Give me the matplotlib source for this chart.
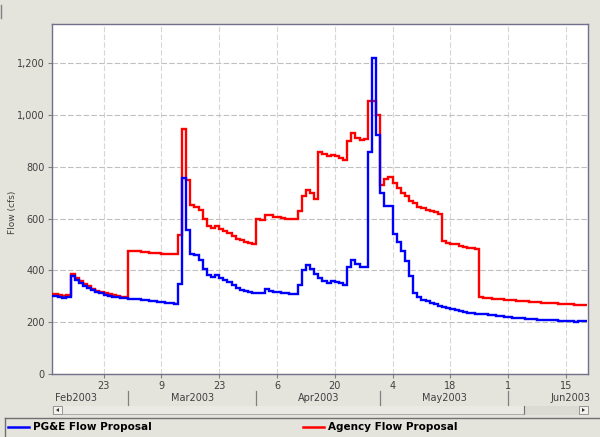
import matplotlib
matplotlib.use('Agg')
import matplotlib.pyplot as plt
import matplotlib.dates as mdates
import matplotlib.ticker as mticker
from matplotlib.patches import Rectangle, Polygon
from matplotlib.lines import Line2D
from matplotlib.transforms import blended_transform_factory
import pandas as pd

# ---------------- data ----------------
start_date = '2003-02-10'   # daily values from this day

pge_flow = [
    300, 300, 298, 295, 298, 380, 363, 350, 340, 332,
    324, 317, 311, 306, 302, 299, 296, 294, 292, 291,
    290, 288, 286, 284, 283, 281, 279, 277, 275, 273,
    271, 348, 757, 556, 464, 458, 440, 407, 381, 375,
    381, 372, 361, 355, 343, 333, 325, 319, 315, 313,
    312, 311, 329, 322, 316, 315, 312, 311, 310, 309,
    342, 402, 419, 406, 387, 369, 359, 351, 359, 354,
    351, 342, 414, 441, 424, 413, 414, 857, 1218, 922,
    699, 647, 647, 541, 508, 473, 437, 377, 312, 299,
    287, 280, 274, 270, 264, 260, 255, 251, 248, 244,
    240, 237, 235, 233, 232, 230, 228, 226, 224, 223,
    221, 220, 218, 217, 215, 214, 212, 211, 210, 209,
    209, 208, 207, 206, 205, 204, 203, 201, 206, 203,
]

agency_flow = [
    310, 310, 306, 302, 306, 385, 370, 358, 348, 338,
    330, 322, 316, 312, 308, 305, 302, 298, 296, 476,
    475, 473, 471, 470, 469, 467, 466, 465, 464, 463,
    463, 538, 944, 748, 654, 645, 635, 599, 570, 564,
    570, 560, 551, 545, 531, 522, 516, 510, 506, 503,
    600, 596, 615, 613, 606, 605, 601, 599, 599, 598,
    628, 689, 709, 699, 676, 858, 851, 841, 847, 841,
    835, 828, 899, 931, 912, 902, 906, 1055, 1055, 998,
    728, 753, 760, 738, 717, 699, 689, 668, 659, 646,
    640, 635, 630, 626, 618, 512, 506, 503, 500, 496,
    491, 487, 485, 484, 299, 295, 292, 290, 289, 288,
    287, 285, 284, 283, 282, 280, 279, 278, 277, 276,
    275, 274, 273, 272, 271, 270, 269, 268, 267, 266,
]

series_names = ['PG&E Flow Proposal', 'Agency Flow Proposal']
y_label = 'Flow (cfs)'
y_ticks = [0, 200, 400, 600, 800, 1000, 1200]
x_tick_dates = ['2003-02-23', '2003-03-09', '2003-03-23', '2003-04-06',
                '2003-04-20', '2003-05-04', '2003-05-18', '2003-06-01',
                '2003-06-15']
month_labels = ['Feb2003', 'Mar2003', 'Apr2003', 'May2003', 'Jun2003']
month_starts = ['2003-02-01', '2003-03-01', '2003-04-01', '2003-05-01',
                '2003-06-01', '2003-07-01']
view_start = '2003-02-10 09:30'
view_end = '2003-06-20 09:30'

# ---------------- figure ----------------
W, H = 600, 437
BG = '#e4e3dc'
fig = plt.figure(figsize=(6, 4.37), dpi=100, facecolor=BG)


def fx(px):
    return px / W


def fy(py):
    return 1 - py / H


ax = fig.add_axes([fx(51.5), fy(374), fx(588.3) - fx(51.5), fy(24.3) - fy(374)])
ax.set_facecolor('white')

edges = mdates.date2num(
    pd.date_range(start_date, periods=len(pge_flow) + 1, freq='D').to_pydatetime())
ax.stairs(agency_flow, edges, baseline=None, color='#ff0000', lw=1.7, zorder=3)
ax.stairs(pge_flow, edges, baseline=None, color='#0000ff', lw=1.7, zorder=4)

x0 = mdates.date2num(pd.Timestamp(view_start).to_pydatetime())
x1 = mdates.date2num(pd.Timestamp(view_end).to_pydatetime())
ax.set_xlim(x0, x1)
ax.set_ylim(0, 1350)

tick_dt = pd.to_datetime(x_tick_dates)
ax.set_xticks(mdates.date2num(tick_dt.to_pydatetime()))
ax.set_xticklabels([str(d.day) for d in tick_dt])
ax.set_yticks(y_ticks)
ax.yaxis.set_major_formatter(mticker.StrMethodFormatter('{x:,.0f}'))

ax.yaxis.grid(True, color='#c0c0c0', lw=0.8, ls=(0, (5, 2)), zorder=0)
ax.xaxis.grid(True, color='#d8d8d0', lw=0.8, ls=(0, (5, 2)), zorder=0)
ax.set_axisbelow(True)

for s in ax.spines.values():
    s.set_color('#70708a')
    s.set_linewidth(1.0)

ax.tick_params(axis='both', length=3, color='#808080', labelsize=7,
               labelcolor='#404040', pad=2, width=0.8)

fig.text(fx(13), fy(212), y_label, rotation=90, ha='center', va='center',
         fontsize=6.5, color='#404040')

# month axis row
tr = blended_transform_factory(ax.transData, fig.transFigure)
ms = [mdates.date2num(pd.Timestamp(m).to_pydatetime()) for m in month_starts]
for m in ms[1:-1]:
    fig.add_artist(Line2D([m, m], [fy(391), fy(405)], transform=tr,
                          color='#808080', lw=0.9))
for i, lab in enumerate(month_labels):
    if i == 0:
        fig.text(x0 + 0.9, fy(398), lab, transform=tr, ha='left', va='center',
                 fontsize=7, color='#404040')
    else:
        mid = (ms[i] + ms[i + 1]) / 2
        fig.text(mid, fy(398), lab, transform=tr, ha='center', va='center',
                 fontsize=7, color='#404040')

# scrollbar
fig.add_artist(Rectangle((fx(52), fy(415)), fx(588) - fx(52), fy(406) - fy(415),
                         transform=fig.transFigure, facecolor='#dcdbd3',
                         edgecolor='none'))
fig.add_artist(Rectangle((fx(62), fy(415)), fx(524) - fx(62), fy(406) - fy(415),
                         transform=fig.transFigure, facecolor='#eae9e3',
                         edgecolor='none'))
fig.add_artist(Line2D([fx(524), fx(524)], [fy(406), fy(414)],
                      transform=fig.transFigure, color='#707070', lw=0.8))
fig.add_artist(Line2D([fx(62), fx(524)], [fy(414), fy(414)],
                      transform=fig.transFigure, color='#a0a0a0', lw=0.6))
for bx in (53, 579):
    fig.add_artist(Rectangle((fx(bx), fy(414)), fx(9), fy(406) - fy(414),
                             transform=fig.transFigure, facecolor='#f2f2ee',
                             edgecolor='#888888', lw=0.6))
fig.add_artist(Polygon([(fx(56), fy(410)), (fx(59), fy(408)), (fx(59), fy(412))],
                       closed=True, transform=fig.transFigure,
                       facecolor='#333333', edgecolor='none'))
fig.add_artist(Polygon([(fx(585), fy(410)), (fx(582), fy(408)), (fx(582), fy(412))],
                       closed=True, transform=fig.transFigure,
                       facecolor='#333333', edgecolor='none'))

# legend bar
fig.add_artist(Line2D([fx(5), fx(600)], [fy(418), fy(418)],
                      transform=fig.transFigure, color='#707070', lw=1.0))
fig.add_artist(Line2D([fx(5), fx(5)], [fy(418), fy(437)],
                      transform=fig.transFigure, color='#707070', lw=1.0))
fig.add_artist(Line2D([fx(1), fx(1)], [fy(5), fy(18)],
                      transform=fig.transFigure, color='#808080', lw=1.0))

legend_items = [(series_names[0], '#0000ff', 8), (series_names[1], '#ff0000', 303)]
for name, col, lx in legend_items:
    fig.add_artist(Line2D([fx(lx), fx(lx + 21)], [fy(427), fy(427)],
                          transform=fig.transFigure, color=col, lw=1.8))
    fig.text(fx(lx + 25), fy(427.5), name, ha='left', va='center',
             fontsize=7.5, fontweight='bold', color='black')

fig.savefig('out.png', dpi=100, facecolor=BG)
